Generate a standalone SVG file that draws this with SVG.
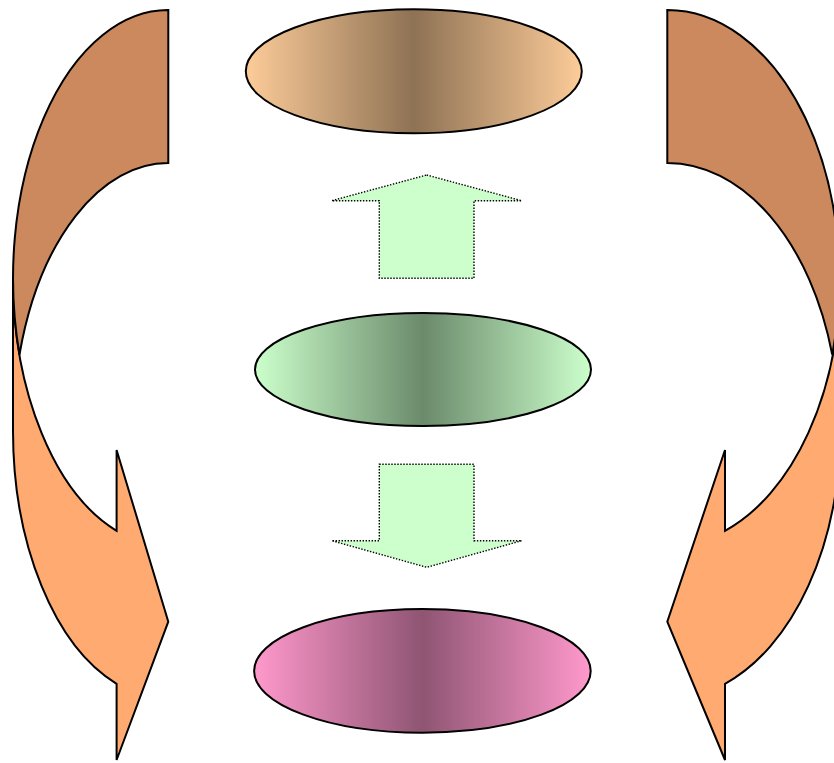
<svg xmlns="http://www.w3.org/2000/svg" width="834" height="763" viewBox="0 0 834 763">
<style>
.outline{stroke:#000;stroke-width:2;stroke-linejoin:miter}
.front{fill:#FFAA71}
.back{fill:#CC895D}
.block{fill:#CCFFCC;stroke:#000;stroke-width:1.4;stroke-dasharray:1.4 1.6}
.node{stroke:#000;stroke-width:2}
</style>
<defs>
<linearGradient id="gTop" x1="0" y1="0" x2="1" y2="0">
<stop offset="0" stop-color="#FDCC99"/>
<stop offset="0.5" stop-color="#8E7254"/>
<stop offset="1" stop-color="#FDCC99"/>
</linearGradient>
<linearGradient id="gMid" x1="0" y1="0" x2="1" y2="0">
<stop offset="0" stop-color="#CCFFCC"/>
<stop offset="0.5" stop-color="#6B8A6B"/>
<stop offset="1" stop-color="#CCFFCC"/>
</linearGradient>
<linearGradient id="gBot" x1="0" y1="0" x2="1" y2="0">
<stop offset="0" stop-color="#FF99CC"/>
<stop offset="0.5" stop-color="#8F5573"/>
<stop offset="1" stop-color="#FF99CC"/>
</linearGradient>
</defs>
<g id="connectors">
<g id="curved-left">
<path class="front outline" d="M13,278 A155,268 0 0 0 116.6,530.8 L116.6,450 L168.3,621.7 L116.6,760 L116.6,683.8 A155,268 0 0 1 13,431 Z"/>
<path class="back outline" d="M168.3,163 A155,268 0 0 0 19.5,354.5 A155,268 0 0 1 168.3,10 Z"/>
</g>
<g id="curved-right">
<path class="front outline" d="M840,278 A172,268 0 0 1 725,530.8 L725,450 L667.3,621.7 L725,760 L725,683.8 A172,268 0 0 0 840,431 Z"/>
<path class="back outline" d="M667.3,163 A172,268 0 0 1 832.2,354.5 A172,268 0 0 0 667.3,10 Z"/>
</g>
<g id="arrow-up">
<polygon class="block" points="426.7,175 521.7,200.7 474,200.7 474,278.3 379.3,278.3 379.3,200.7 331.7,200.7"/>
</g>
<g id="arrow-down">
<polygon class="block" points="379.3,464.3 474,464.3 474,540.7 521.7,540.7 426.7,567.3 331.7,540.7 379.3,540.7"/>
</g>
</g>
<g id="node-top">
<ellipse class="node" cx="413.8" cy="71.3" rx="168" ry="62" fill="url(#gTop)"/>
</g>
<g id="node-middle">
<ellipse class="node" cx="423" cy="369.5" rx="168" ry="56.5" fill="url(#gMid)"/>
</g>
<g id="node-bottom">
<ellipse class="node" cx="422.4" cy="670.9" rx="168.3" ry="61.8" fill="url(#gBot)"/>
</g>
</svg>
